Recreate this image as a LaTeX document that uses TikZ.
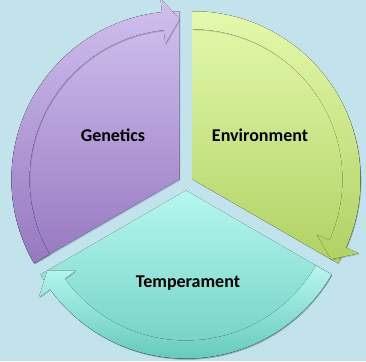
\documentclass[tikz,border=0pt]{standalone}
\usepackage{fontspec}
\setmainfont{Carlito}
\usetikzlibrary{shadows}
\definecolor{bgblue}{RGB}{194,227,235}
\definecolor{genTop}{RGB}{208,192,238}
\definecolor{genBot}{RGB}{150,120,192}
\definecolor{envTop}{RGB}{228,249,172}
\definecolor{envBot}{RGB}{176,210,100}
\definecolor{temTop}{RGB}{182,247,239}
\definecolor{temBot}{RGB}{102,202,188}
\tikzset{every shadow/.style={fill=black,opacity=0.15,shadow xshift=0.8pt,shadow yshift=-1.2pt}}
\tikzset{
  segfill/.style={drop shadow},
  segtext/.style={font=\bfseries\fontsize{18}{20}\selectfont,text=black}
}

\begin{document}
\begin{tikzpicture}[x=1pt,y=1pt]
\fill[bgblue] (0,0) rectangle (366,361);
\useasboundingbox (0,0) rectangle (366,361);
\coordinate (o) at (186,178);
% genetics
\begin{scope}[shift={(o)},shift={(150:7.5)}]
\fill[segfill,top color=genTop,bottom color=genBot] (0,0) -- (210:168) arc[start angle=210,end angle=90,radius=168] -- cycle;
\fill[segfill,top color=genTop,bottom color=genBot] (210:168) arc[start angle=210,end angle=96,radius=168] -- (96:182) -- (90:160) -- (96:136) -- (96:150) arc[start angle=96,end angle=210,radius=150] -- cycle;
\end{scope}
% environment
\begin{scope}[shift={(o)},shift={(30:7.5)}]
\fill[segfill,top color=envTop,bottom color=envBot] (0,0) -- (90:168) arc[start angle=90,end angle=-30,radius=168] -- cycle;
\fill[segfill,top color=envTop,bottom color=envBot] (90:168) arc[start angle=90,end angle=-24,radius=168] -- (-24:182) -- (-30:160) -- (-24:136) -- (-24:150) arc[start angle=-24,end angle=90,radius=150] -- cycle;
\end{scope}
% temperament
\begin{scope}[shift={(o)},shift={(270:7.5)}]
\fill[segfill,top color=temTop,bottom color=temBot] (0,0) -- (330:168) arc[start angle=330,end angle=210,radius=168] -- cycle;
\fill[segfill,top color=temTop,bottom color=temBot] (330:168) arc[start angle=330,end angle=216,radius=168] -- (216:182) -- (210:160) -- (216:136) -- (216:150) arc[start angle=216,end angle=330,radius=150] -- cycle;
\end{scope}
%
\node[segtext] (genetics) at (113,226) {Genetics};
\node[segtext] (environment) at (260,226) {Environment};
\node[segtext] (temperament) at (188,78) {Temperament};
\end{tikzpicture}
\end{document}
